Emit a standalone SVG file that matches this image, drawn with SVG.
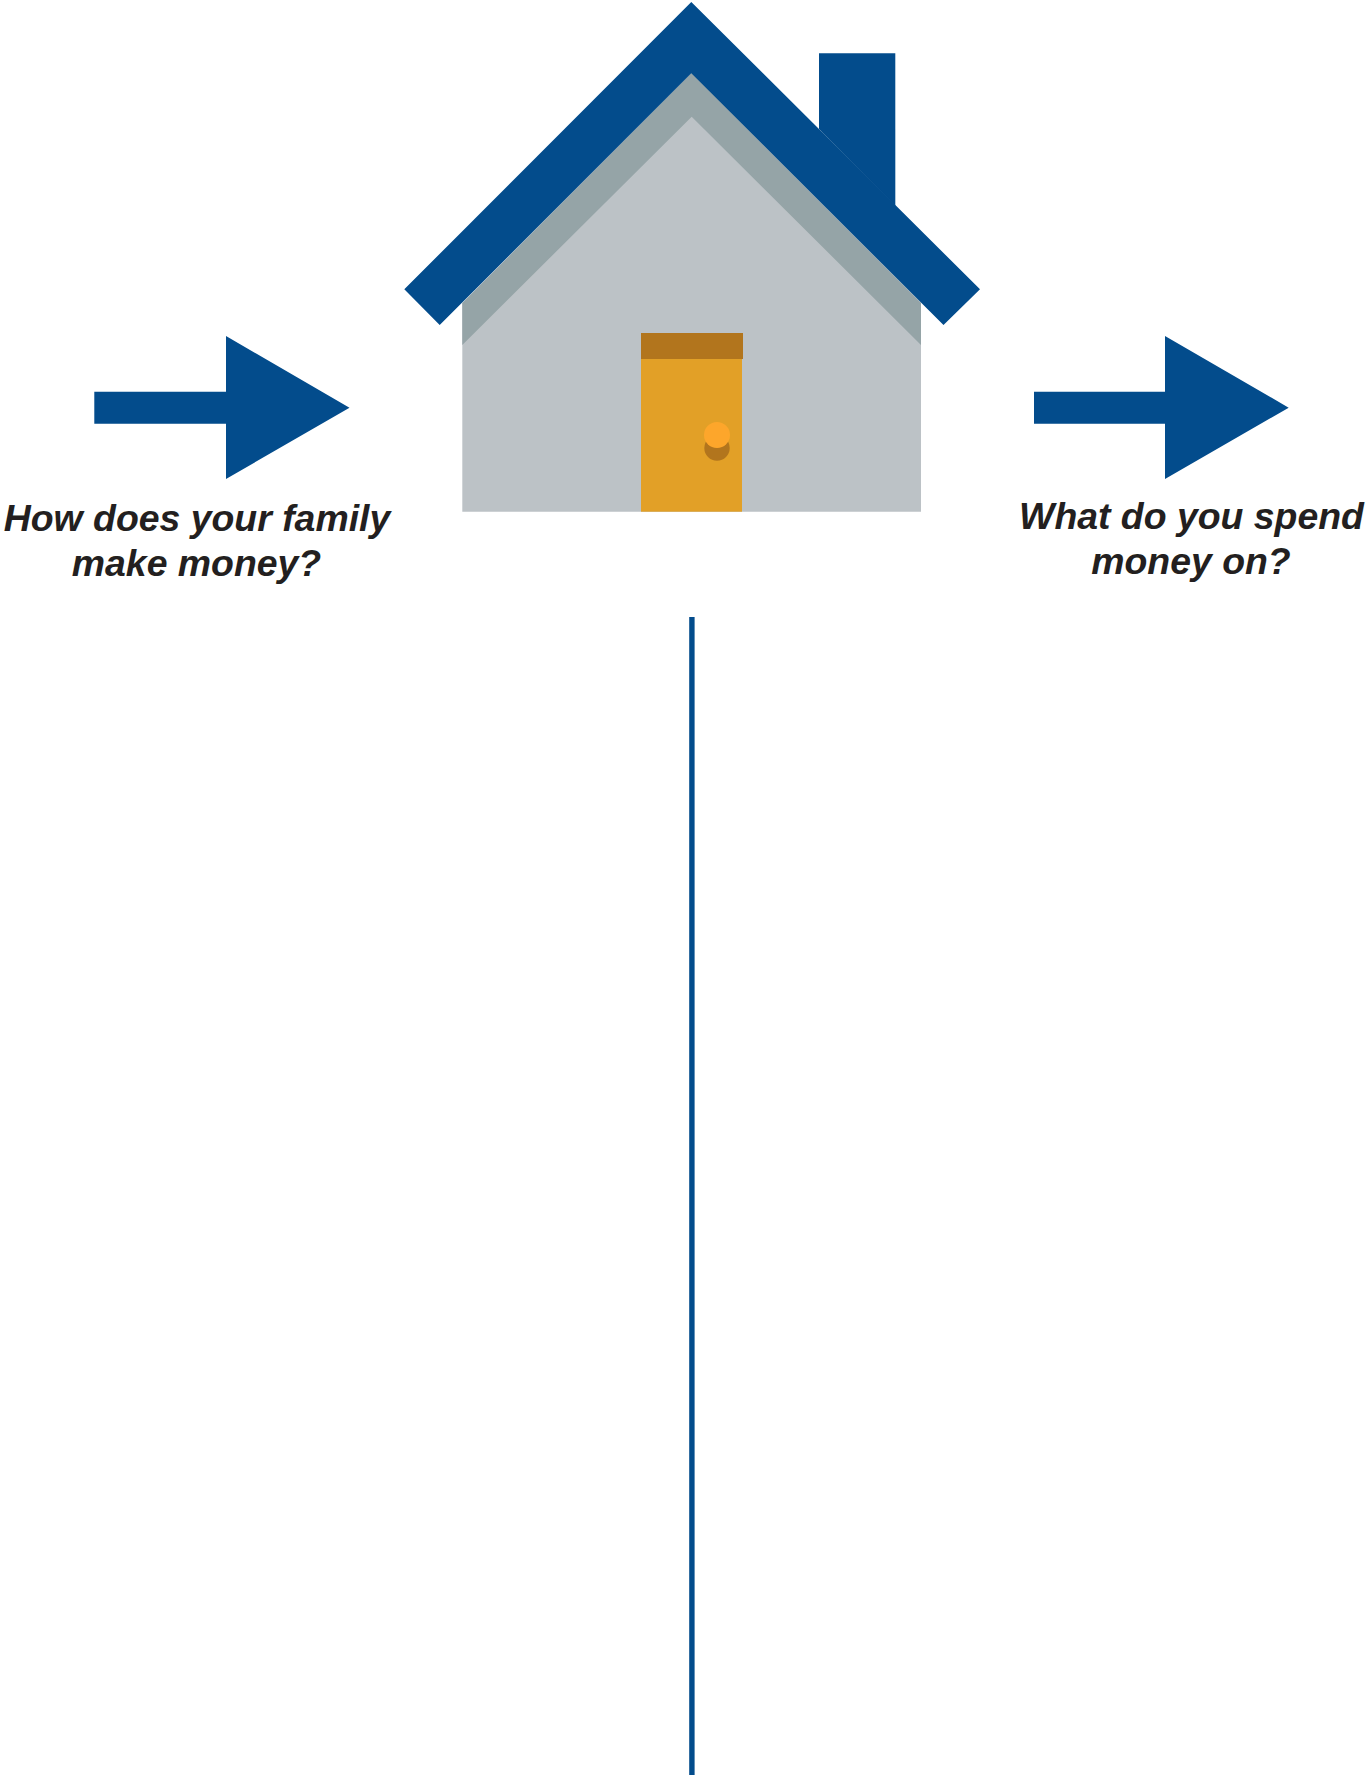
<svg xmlns="http://www.w3.org/2000/svg" width="1367" height="1775" viewBox="0 0 1367 1775">
<style>
.blue{fill:#034c8c}
.q{font-family:"Liberation Sans",Arial,sans-serif;font-weight:bold;font-style:italic;font-size:37.4px;fill:#231f20;text-anchor:middle}
</style>
<rect width="1367" height="1775" fill="#ffffff"/>
<g id="house">
<polygon class="blue" points="819,53.3 895.3,53.3 895.3,206 819,129"/>
<polygon points="691.5,73 921,303 921,511.7 462.3,511.7 462.3,303" fill="#bcc2c6"/>
<polygon points="691.5,73 921,303 921,345 691.7,116.7 462.3,345 462.3,303" fill="#95a4a7"/>
<polygon class="blue" points="691.3,2 980,289.3 943.5,325 691.3,73.3 439.7,325 404.3,289.3"/>
<rect x="641" y="359" width="101" height="152.7" fill="#e2a027"/>
<rect x="641" y="333" width="102" height="26" fill="#b2751d"/>
<circle cx="717" cy="448" r="12.7" fill="#b2751d"/>
<circle cx="717" cy="435" r="13" fill="#fda62b"/>
</g>
<g id="connectors">
<polygon id="arrow-left" class="blue" points="94.3,391.7 226,391.7 226,336 349.5,407.7 226,479 226,423.7 94.3,423.7"/>
<polygon id="arrow-right" class="blue" points="1034,391.7 1165,391.7 1165,336 1288.7,407.7 1165,479 1165,423.7 1034,423.7"/>
<rect id="divider" class="blue" x="689.2" y="617" width="5.4" height="1158"/>
</g>
<g id="label-left">
<text class="q" x="197" y="530.5">How does your family</text>
<text class="q" x="196.5" y="575.5">make money?</text>
</g>
<g id="label-right">
<text class="q" x="1191.5" y="528.5">What do you spend</text>
<text class="q" x="1191" y="573.5">money on?</text>
</g>
</svg>
